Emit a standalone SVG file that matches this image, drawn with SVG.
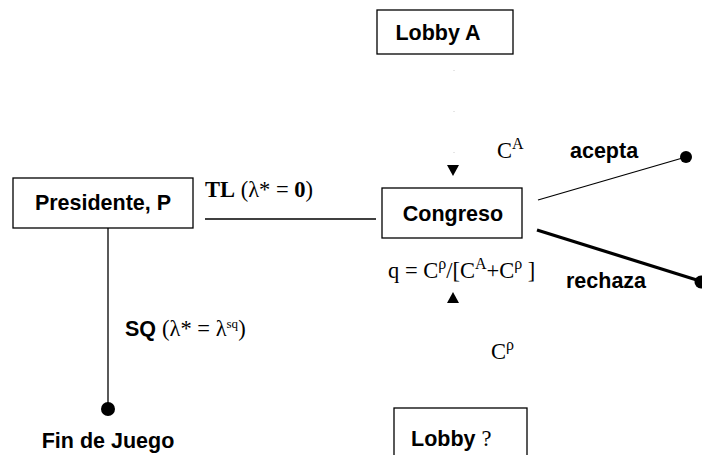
<svg xmlns="http://www.w3.org/2000/svg" width="702" height="455" viewBox="0 0 702 455">
<style>
.box{fill:#fff;stroke:#000;stroke-width:1.3}
.sans{font-family:"Liberation Sans",Arial,sans-serif;font-weight:bold;font-size:21.5px;fill:#000}
.serif{font-family:"Liberation Serif","Times New Roman",serif;font-size:22.5px;fill:#000}
.sup{font-size:16px}
.ln{stroke:#000;stroke-width:1.3;fill:none}
.thick{stroke:#000;stroke-width:3.2;fill:none}
.faint{stroke:#ccc;stroke-width:1;stroke-dasharray:1 40;fill:none}
</style>
<rect width="702" height="455" fill="#fff"/>
<g id="connectors">
  <line class="ln" x1="205" y1="219" x2="376" y2="219"/>
  <line class="ln" x1="108" y1="228" x2="108" y2="406"/>
  <line class="ln" x1="538" y1="200" x2="686" y2="157"/>
  <line class="thick" x1="537" y1="230" x2="700" y2="281"/>
  <line class="faint" x1="454" y1="70" x2="454" y2="165"/>
  <polygon points="447,165 459,165 453,176" fill="#000"/>
  <polygon points="447,303 459,303 453,292" fill="#000"/>
  <circle cx="686" cy="157" r="6" fill="#000"/>
  <circle cx="701" cy="282" r="6.5" fill="#000"/>
  <circle cx="108" cy="409" r="7" fill="#000"/>
  <text class="serif" x="205" y="197"><tspan font-weight="bold">TL</tspan> (λ* = <tspan font-weight="bold">0</tspan>)</text>
  <text class="sans" x="570" y="158">acepta</text>
  <text class="sans" x="566" y="288">rechaza</text>
  <text class="sans" x="125" y="336">SQ <tspan class="serif" font-weight="normal">(λ* = λ<tspan font-size="13" dy="-8">sq</tspan><tspan dy="8">)</tspan></tspan></text>
  <text class="serif" x="497" y="158">C<tspan class="sup" dy="-9">A</tspan></text>
  <text class="serif" x="388" y="278">q = C<tspan class="sup" dy="-9">ρ</tspan><tspan dy="9">/[C</tspan><tspan class="sup" dy="-9">A</tspan><tspan dy="9">+C</tspan><tspan class="sup" dy="-9">ρ</tspan><tspan dy="9">  ]</tspan></text>
  <text class="serif" x="491" y="359">C<tspan class="sup" dy="-9">ρ</tspan></text>
</g>
<g id="lobbyA">
  <rect class="box" x="377" y="10" width="136" height="44"/>
  <text class="sans" x="438" y="40" text-anchor="middle">Lobby A</text>
</g>
<g id="presidente">
  <rect class="box" x="13" y="178" width="180" height="50"/>
  <text class="sans" x="103" y="210" text-anchor="middle">Presidente, P</text>
</g>
<g id="congreso">
  <rect class="box" x="382" y="188" width="140" height="50"/>
  <text class="sans" x="453" y="221" text-anchor="middle">Congreso</text>
</g>
<g id="lobbyP">
  <rect class="box" x="394" y="408" width="133" height="52"/>
  <text class="sans" x="411" y="446">Lobby <tspan class="serif" font-weight="normal">?</tspan></text>
</g>
<g id="fin">
  <text class="sans" x="108" y="448" text-anchor="middle">Fin de Juego</text>
</g>
</svg>
